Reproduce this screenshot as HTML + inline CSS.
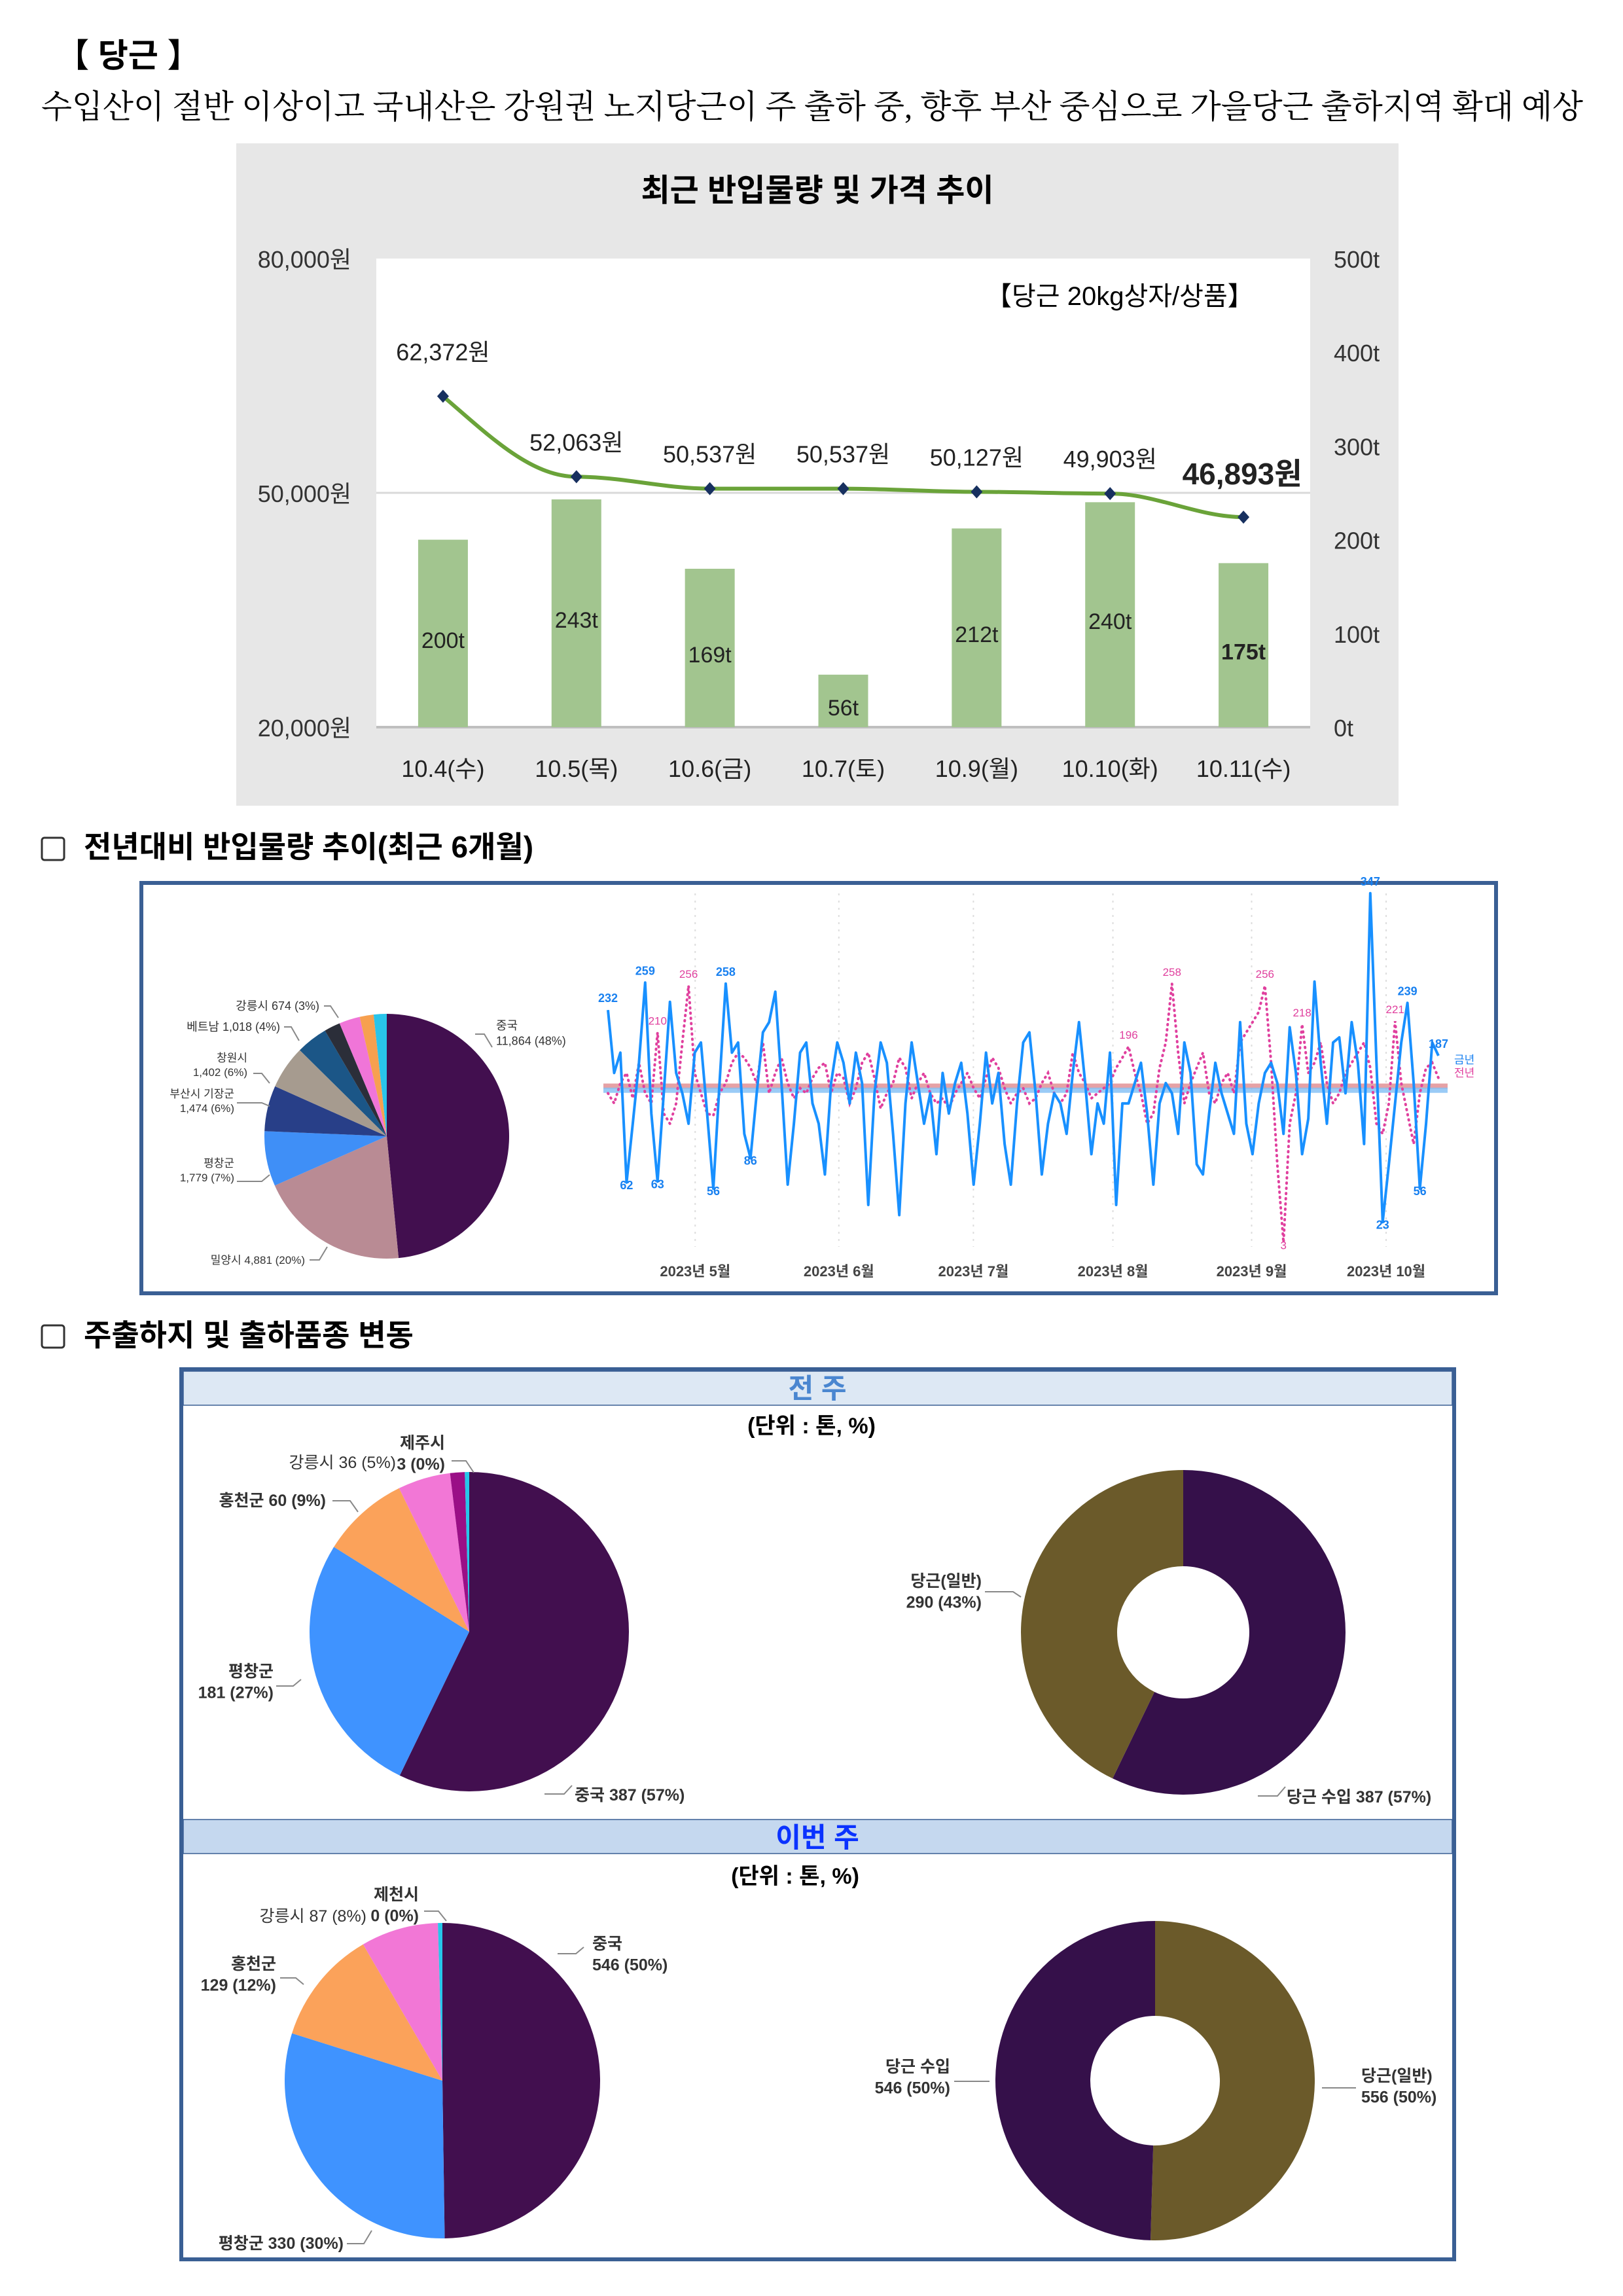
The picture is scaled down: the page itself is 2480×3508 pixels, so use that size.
<!DOCTYPE html>
<html><head><meta charset="utf-8"><style>
html,body{margin:0;padding:0;background:#fff;width:2480px;height:3508px;overflow:hidden}
svg text{font-family:"Liberation Sans","Noto Sans CJK KR",sans-serif}
</style></head><body>
<svg id="page" width="2480" height="3508" viewBox="0 0 2480 3508" xmlns="http://www.w3.org/2000/svg">
<text x="86" y="102" font-size="50" font-weight="bold">【 당근 】</text>
<text x="63" y="180" font-size="50" textLength="2356" lengthAdjust="spacingAndGlyphs" style="font-family:'Liberation Serif','Noto Serif CJK SC',serif">수입산이 절반 이상이고 국내산은 강원권 노지당근이 주 출하 중, 향후 부산 중심으로 가을당근 출하지역 확대 예상</text>

<g id="bar-panel">
<rect x="361" y="219" width="1776" height="1012" fill="#e7e7e7"/>
<text x="1249" y="307" font-size="48" font-weight="bold" text-anchor="middle">최근 반입물량 및 가격 추이</text>
<rect x="575" y="395" width="1427" height="716" fill="#fff"/>
<text x="1506" y="466" font-size="40">【당근 20kg상자/상품】</text>
<g id="bars"></g>
</g>

<g>
<rect x="64" y="1280" width="34" height="34" rx="4" fill="#fff" stroke="#333" stroke-width="3"/>
<text x="128" y="1310" font-size="46" font-weight="bold">전년대비 반입물량 추이(최근 6개월)</text>
</g>
<rect x="216" y="1349" width="2070" height="627" fill="#fff" stroke="#3a5f94" stroke-width="6"/>
<g id="pie0"></g>
<g id="lines"></g>

<g>
<rect x="64" y="2025" width="34" height="34" rx="4" fill="#fff" stroke="#333" stroke-width="3"/>
<text x="128" y="2056" font-size="46" font-weight="bold">주출하지 및 출하품종 변동</text>
</g>
<rect x="277" y="2092" width="1945" height="1360" fill="#fff" stroke="#3a5f94" stroke-width="6"/>
<rect x="280" y="2095" width="1939" height="52" fill="#dde8f4" stroke="#3a5f94" stroke-width="1.5"/>
<text x="1249" y="2136" font-size="42" font-weight="bold" fill="#4a86d0" text-anchor="middle">전 주</text>
<text x="1240" y="2190" font-size="34" font-weight="bold" text-anchor="middle">(단위 : 톤, %)</text>
<rect x="280" y="2780" width="1939" height="52" fill="#c5d8ef" stroke="#3a5f94" stroke-width="1.5"/>
<text x="1249" y="2822" font-size="42" font-weight="bold" fill="#0a32ff" text-anchor="middle">이번 주</text>
<text x="1215" y="2878" font-size="34" font-weight="bold" text-anchor="middle">(단위 : 톤, %)</text>
<g id="pies"></g>
</svg>
<script>
const NS="http://www.w3.org/2000/svg";
function mk(tag,attrs,parent,txt){const e=document.createElementNS(NS,tag);for(const k in attrs)e.setAttribute(k,attrs[k]);if(txt!==undefined)e.textContent=txt;parent.appendChild(e);return e;}

// ---- Bar + line chart data ----
const days=["10.4(수)","10.5(목)","10.6(금)","10.7(토)","10.9(월)","10.10(화)","10.11(수)"];
const volumes=[200,243,169,56,212,240,175];
const prices=[62372,52063,50537,50537,50127,49903,46893];
const priceTicks=[20000,50000,80000];
const priceTickLabels=["20,000원","50,000원","80,000원"];
const volTicks=[0,100,200,300,400,500];

const bg=document.getElementById('bars');
const px0=575,px1=2002,py0=1111,py1=395;
const bx=i=>px0+(i+0.5)*(px1-px0)/days.length;
const yP=v=>py0-(v-20000)/60000*(py0-py1);
const yV=v=>py0-v/500*(py0-py1);
mk('line',{x1:px0,x2:px1,y1:yP(50000),y2:yP(50000),stroke:'#d9d9d9','stroke-width':3},bg);
mk('line',{x1:px0,x2:px1,y1:py0,y2:py0,stroke:'#bfbfbf','stroke-width':4},bg);
priceTicks.forEach((t,i)=>{const e=mk('text',{x:537,y:yP(t)+14,'font-size':36,'text-anchor':'end',fill:'#333'},bg,priceTickLabels[i]);});
volTicks.forEach(t=>{const e=mk('text',{x:2038,y:yV(t)+14,'font-size':36,fill:'#333'},bg,t+'t');});
volumes.forEach((v,i)=>{
 const r=mk('rect',{x:bx(i)-38,y:yV(v),width:76,height:yV(0)-yV(v),fill:'#a2c58f'},bg);
 
 const t=mk('text',{x:bx(i),y:(yV(v)+yV(0))/2+22,'font-size':34,'text-anchor':'middle','font-weight':i==6?'bold':'normal',fill:'#222'},bg,v+'t');
 
 const xl=mk('text',{x:bx(i),y:1187,'font-size':36,'text-anchor':'middle',fill:'#222'},bg,days[i]);
 
});
let d='';prices.forEach((p,i)=>{const x=bx(i),y=yP(p);if(i==0)d='M'+x+' '+y;else{const xp=bx(i-1),yp=yP(prices[i-1]);d+=` C${xp+70} ${yp+ (i==1?60:0)} ${x-70} ${y} ${x} ${y}`;}});
const pl=mk('path',{d:d,fill:'none',stroke:'#6aa339','stroke-width':6},bg);

prices.forEach((p,i)=>{const x=bx(i),y=yP(p);
 const m=mk('path',{d:`M${x} ${y-10}L${x+9} ${y}L${x} ${y+10}L${x-9} ${y}Z`,fill:'#17305f'},bg);
 
 const last=i==prices.length-1;
 const t=mk('text',{x:last?x-2:x,y:y-(i==0?55:last?50:40),'font-size':last?46:36,'font-weight':last?'bold':'normal','text-anchor':'middle',fill:'#222'},bg,p.toLocaleString('en-US')+'원');
 
});

// ---- Pie helpers ----
function pie(g,cx,cy,r,vals,cols,inner){
 const tot=vals.reduce((a,b)=>a+b,0);let a=-Math.PI/2;
 vals.forEach((v,i)=>{const a2=a+v/tot*2*Math.PI;const large=(a2-a)>Math.PI?1:0;
  const p=(ang,rr)=>[cx+rr*Math.cos(ang),cy+rr*Math.sin(ang)];
  const [x1,y1]=p(a,r),[x2,y2]=p(a2,r);let dd;
  if(inner){const [x3,y3]=p(a2,inner),[x4,y4]=p(a,inner);dd=`M${x1} ${y1}A${r} ${r} 0 ${large} 1 ${x2} ${y2}L${x3} ${y3}A${inner} ${inner} 0 ${large} 0 ${x4} ${y4}Z`;}
  else dd=`M${cx} ${cy}L${x1} ${y1}A${r} ${r} 0 ${large} 1 ${x2} ${y2}Z`;
  const s=mk('path',{d:dd,fill:cols[i]},g);
  
  a=a2;});
}
function label(g,lines,x,y,fs,anchor,lx1,ly1,lx2,ly2,bold){
 lines.forEach((l,i)=>{const t=mk('text',{x:x,y:y+i*fs*1.3,'font-size':fs,'text-anchor':anchor||'start','font-weight':bold?'bold':'normal',fill:'#333'},g,l);
 });
 if(lx1!==undefined)mk('polyline',{points:`${lx1},${ly1} ${lx2},${ly1} ${lx2+12},${ly2}`,fill:'none',stroke:'#888','stroke-width':2},g);
}

// ---- Section 2 pie ----
const regions6=["중국","밀양시","평창군","부산시 기장군","창원시","기타1","베트남","강릉시","기타2","기타3"];
const regionVals6=[11864,4881,1779,1474,1402,1018,520,674,450,420];
const regionCols6=["#420f4f","#b98b94","#3f8ff7","#283f88","#a69b8f","#1b5687","#2b2e39","#f075d8","#f7a04f","#29c4ea"];
const p0=document.getElementById('pie0');
pie(p0,591,1736,187,regionVals6,regionCols6);
label(p0,["중국","11,864 (48%)"],758,1573,18,'start',726,1580,740,1600);
label(p0,["강릉시 674 (3%)"],488,1543,18,'end',495,1537,505,1555);
label(p0,["베트남 1,018 (4%)"],428,1575,18,'end',434,1569,445,1590);
label(p0,["창원시","1,402 (6%)"],378,1622,17,'end',387,1640,400,1655);
label(p0,["부산시 기장군","1,474 (6%)"],358,1677,17,'end',362,1685,400,1690);
label(p0,["평창군","1,779 (7%)"],358,1783,17,'end',362,1805,400,1795);
label(p0,["밀양시 4,881 (20%)"],466,1931,17,'end',473,1925,488,1905);

// ---- Section 2 line chart ----
const curYear=[232,170,190,62,120,180,259,130,63,150,240,170,150,120,190,200,130,56,160,258,190,200,110,86,150,210,220,250,160,60,120,190,200,140,120,70,160,200,180,140,190,160,40,150,200,180,110,30,140,200,160,120,150,90,170,130,160,180,130,60,120,190,140,170,100,60,140,200,210,150,70,120,150,140,110,170,220,160,90,140,120,190,40,140,140,160,180,130,60,140,160,150,110,200,170,80,70,130,180,150,130,110,220,120,90,140,170,180,160,110,215,170,90,125,260,180,120,200,205,150,220,180,100,347,180,23,80,140,200,239,160,56,120,200,187];
const prevYear=[150,140,160,170,145,180,150,140,210,130,120,140,200,256,170,150,130,128,150,160,180,190,185,175,160,200,150,170,185,160,145,155,150,165,175,180,150,170,165,140,155,180,190,165,135,150,160,185,175,145,160,170,150,140,145,135,150,160,170,155,145,165,185,175,155,140,150,155,140,145,160,170,150,140,150,190,170,160,145,150,155,160,175,185,196,170,150,120,130,175,200,258,190,140,160,175,190,150,140,160,170,150,200,210,220,230,256,180,80,3,120,150,218,170,180,200,160,140,150,170,180,190,200,175,120,110,140,221,160,130,100,150,175,180,165];
const curLabelIdx=[0,3,6,8,17,19,23,123,125,129,131,134];
const prevLabelIdx=[8,13,84,91,106,109,112,127];
const avgCur=[153],avgPrev=[157];
const months=["2023년 5월","2023년 6월","2023년 7월","2023년 8월","2023년 9월","2023년 10월"];
const monthPos=[0.105,0.278,0.44,0.608,0.775,0.937];
const lg=document.getElementById('lines');
const lx0=929,lx1=2198;
const ly=v=>1903-1.551*v;
const lxf=(i,n)=>lx0+i*(lx1-lx0)/(n-1);
months.forEach((m,i)=>{const x=lx0+monthPos[i]*(lx1-lx0);
 mk('line',{x1:x,x2:x,y1:1365,y2:1905,stroke:'#ddd','stroke-width':2,'stroke-dasharray':'3 8'},lg);
 const t=mk('text',{x:x,y:1950,'font-size':22,'font-weight':'bold','text-anchor':'middle',fill:'#444'},lg,m);
 });
const ap=mk('line',{x1:922,x2:2212,y1:ly(avgPrev[0]),y2:ly(avgPrev[0]),stroke:'#e08a8f','stroke-width':8,opacity:0.8},lg);

const ac=mk('line',{x1:922,x2:2212,y1:ly(avgCur[0]),y2:ly(avgCur[0]),stroke:'#82bff5','stroke-width':8,opacity:0.8},lg);

const pp=mk('polyline',{points:prevYear.map((v,i)=>lxf(i,prevYear.length)+','+ly(v)).join(' '),fill:'none',stroke:'#e0409e','stroke-width':4,'stroke-dasharray':'1 7','stroke-linecap':'round'},lg);

const cp=mk('polyline',{points:curYear.map((v,i)=>lxf(i,curYear.length)+','+ly(v)).join(' '),fill:'none',stroke:'#1890ff','stroke-width':4,'stroke-linejoin':'round'},lg);

curLabelIdx.forEach(i=>{const v=curYear[i];const up=v>150;
 const t=mk('text',{x:lxf(i,curYear.length),y:up?ly(v)-12:ly(v)+10,'font-size':18,'font-weight':'bold','text-anchor':'middle',fill:'#1880f0'},lg,v);
 });
prevLabelIdx.forEach(i=>{const v=prevYear[i];const up=v>150;
 const t=mk('text',{x:lxf(i,prevYear.length),y:up?ly(v)-12:ly(v)+10,'font-size':17,'text-anchor':'middle',fill:'#e0409e'},lg,v);
 });
const l1=mk('text',{x:2222,y:1625,'font-size':17,fill:'#1880f0'},lg,'금년');
const l2=mk('text',{x:2222,y:1645,'font-size':17,fill:'#e0409e'},lg,'전년');

// ---- Section 3 pies ----
const lastWeekRegions=["중국","제주시","기타","강릉시","홍천군","평창군"];
const lastWeekVals=[387,3,10,36,60,181];
const thisWeekRegions=["중국","제천시","강릉시","홍천군","평창군"];
const thisWeekVals=[546,5,87,129,330];
const lastWeekType=[387,290];
const thisWeekType=[556,546];
const pg=document.getElementById('pies');
// order clockwise from top: 중국, 평창군, 홍천군, 강릉시, 기타, 제주시
pie(pg,717,2493,244,[lastWeekVals[0],lastWeekVals[5],lastWeekVals[4],lastWeekVals[3],lastWeekVals[2],lastWeekVals[1]],["#420f4f","#3f93ff","#fba25a","#f277d6","#9a0f86","#26c6ea"]);
label(pg,["중국 387 (57%)"],878,2751,25,'start',832,2741,862,2728,true);
label(pg,["평창군","181 (27%)"],418,2562,25,'end',422,2576,448,2566,true);
label(pg,["홍천군 60 (9%)"],498,2301,25,'end',508,2293,535,2310,true);
label(pg,["강릉시 36 (5%)"],605,2243,25,'end');
label(pg,["제주시","3 (0%)"],680,2213,25,'end',690,2232,712,2250,true);
pie(pg,1808,2494,248,lastWeekType,["#35104a","#6b5a2a"],101);
label(pg,["당근(일반)","290 (43%)"],1500,2424,25,'end',1505,2432,1548,2440,true);
label(pg,["당근 수입 387 (57%)"],1966,2754,25,'start',1922,2744,1952,2730,true);
pie(pg,676,3179,241,[thisWeekVals[0],thisWeekVals[4],thisWeekVals[3],thisWeekVals[2],thisWeekVals[1]],["#420f4f","#3f93ff","#fba25a","#f277d6","#26c6ea"]);
label(pg,["중국","546 (50%)"],905,2978,25,'start',852,2985,880,2975,true);
label(pg,["홍천군","129 (12%)"],422,3009,25,'end',428,3022,452,3032,true);
label(pg,["강릉시 87 (8%)"],560,2936,25,'end');
label(pg,["제천시","0 (0%)"],640,2903,25,'end',648,2920,670,2935,true);
label(pg,["평창군 330 (30%)"],525,3436,25,'end',530,3428,556,3408,true);
pie(pg,1765,3179,244,thisWeekType,["#6b5a2a","#35104a"],99);
label(pg,["당근 수입","546 (50%)"],1452,3166,25,'end',1458,3180,1500,3180,true);
label(pg,["당근(일반)","556 (50%)"],2080,3180,25,'start',2020,3190,2060,3190,true);
</script>
</body></html>
